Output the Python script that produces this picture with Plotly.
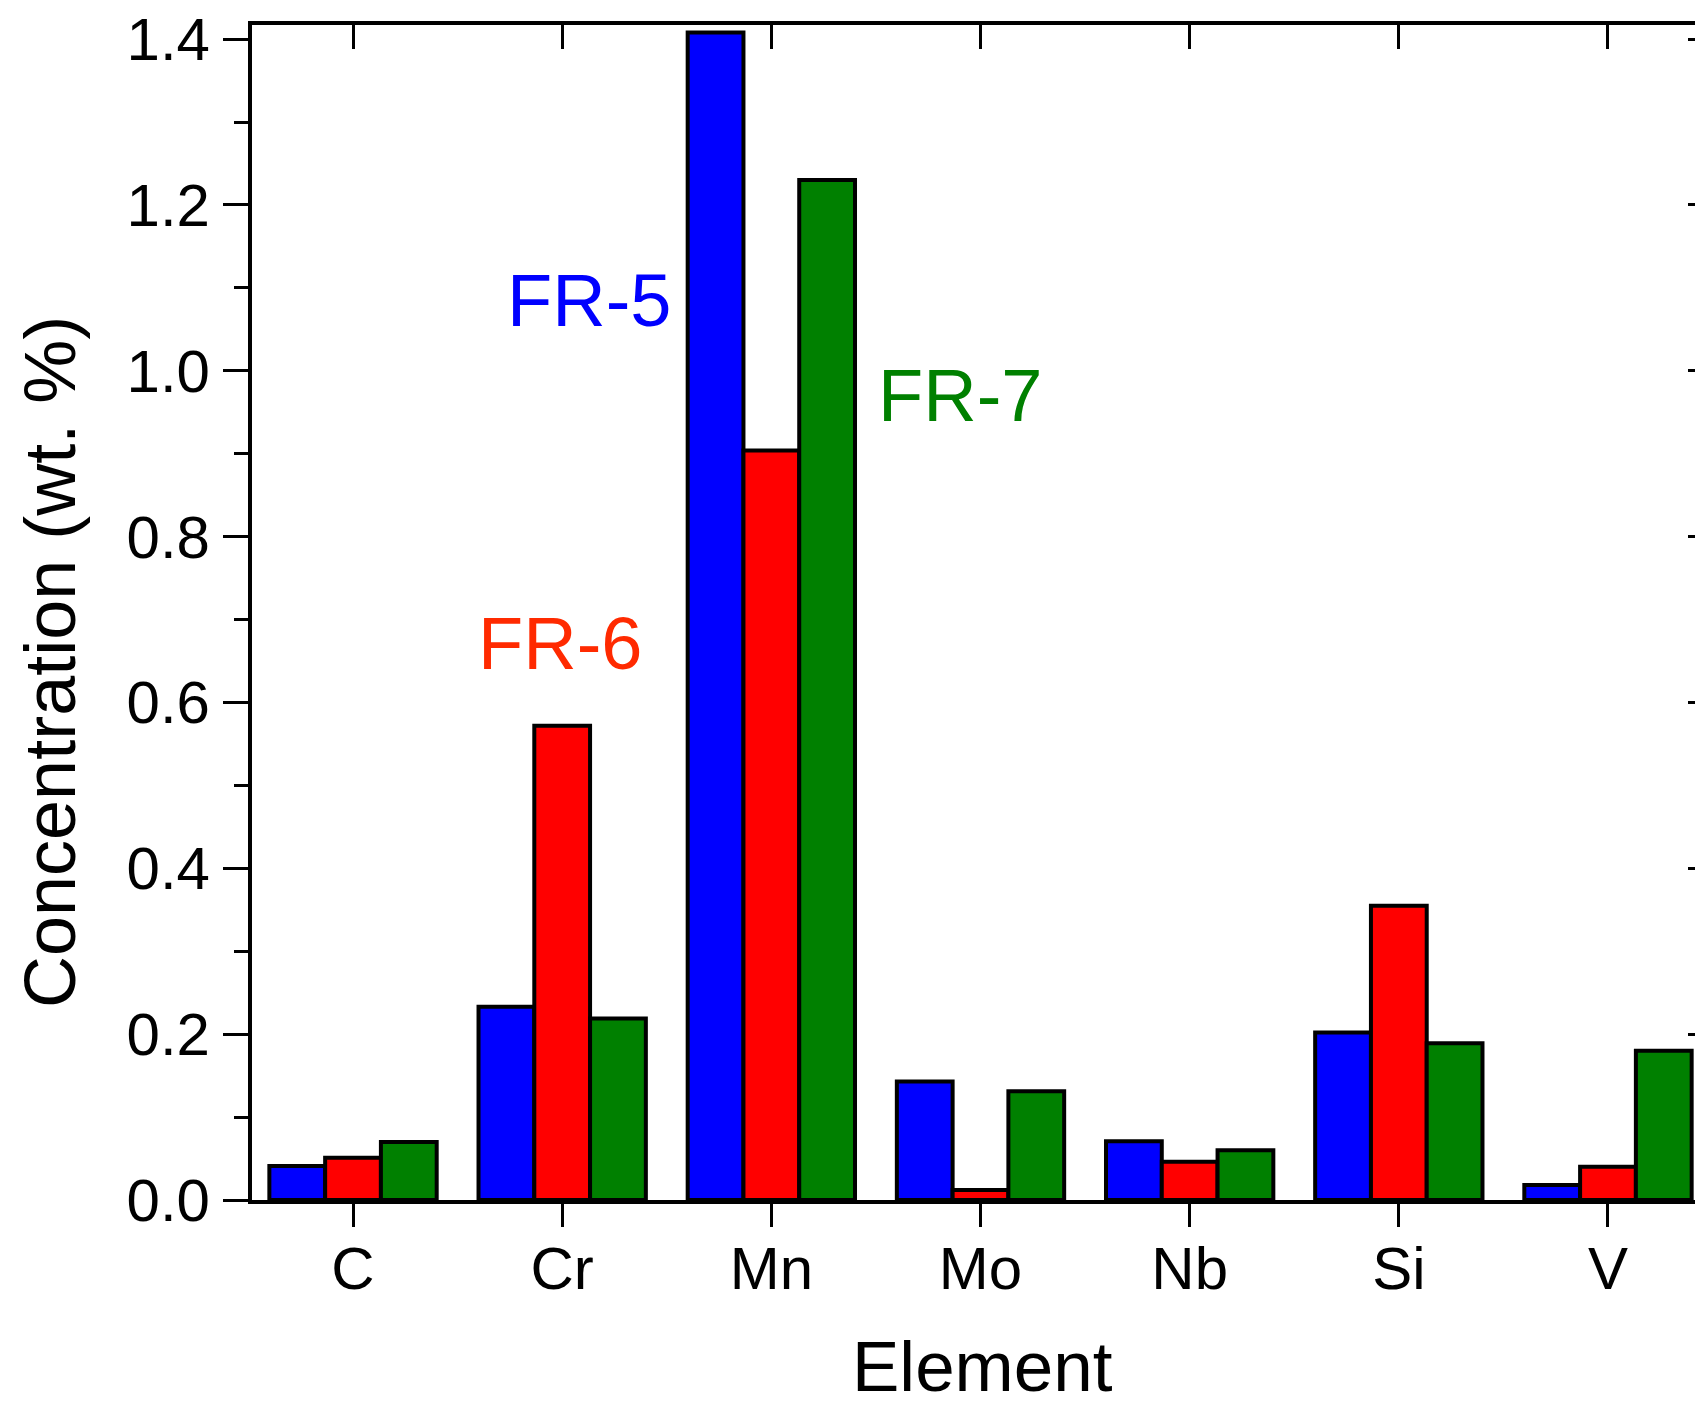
import plotly.graph_objects as go

elements = ["C", "Cr", "Mn", "Mo", "Nb", "Si", "V"]
fr5 = [0.041, 0.233, 1.408, 0.143, 0.071, 0.202, 0.018]
fr6 = [0.051, 0.572, 0.904, 0.012, 0.046, 0.355, 0.040]
fr7 = [0.070, 0.219, 1.230, 0.131, 0.060, 0.189, 0.180]
series_names = ["FR-5", "FR-6", "FR-7"]
series_colors = ["#0000ff", "#ff0000", "#008000"]
label_colors = ["#0000ff", "#ff2a00", "#008000"]

W, H = 1695, 1409
ML, MR, MT, MB = 252, 0, 25, 209
PW, PH = W - ML - MR, H - MT - MB
FONT = "Arial, Liberation Sans, sans-serif"

def px2paper_x(px):
    return (px - ML) / PW

def px2paper_y(py):
    return (H - MB - py) / PH

xr = [-0.483, 6.416]
yr = [0, 1.417]

fig = go.Figure()
for name, vals, col in zip(series_names, [fr5, fr6, fr7], series_colors):
    fig.add_trace(go.Bar(x=elements, y=vals, name=name, marker=dict(color=col, line=dict(color="black", width=4))))

# invisible trace on helper axes
fig.add_trace(go.Scatter(x=[0], y=[0], xaxis="x2", yaxis="y2", mode="markers",
                         marker=dict(opacity=0), showlegend=False, hoverinfo="skip"))

fig.update_layout(
    width=W, height=H,
    margin=dict(l=ML, r=MR, t=MT, b=MB, pad=0),
    paper_bgcolor="white", plot_bgcolor="white",
    barmode="group", bargap=0.2, bargroupgap=0,
    showlegend=False,
    font=dict(family=FONT, color="black"),
    xaxis=dict(type="category", range=xr, showgrid=False, zeroline=False,
               showline=True, linecolor="black", linewidth=4, mirror=True,
               ticks="outside", ticklen=23, tickwidth=3, tickcolor="black",
               tickfont=dict(size=60, family=FONT), ticklabelstandoff=-10),
    yaxis=dict(range=yr, showgrid=False, zeroline=False,
               showline=True, linecolor="black", linewidth=4, mirror=False,
               ticks="outside", ticklen=25, tickwidth=3, tickcolor="black",
               dtick=0.2, tick0=0, tickformat=".1f",
               tickfont=dict(size=60, family=FONT), ticklabelstandoff=1,
               minor=dict(ticks="outside", ticklen=14, tickwidth=3, tickcolor="black", dtick=0.1, tick0=0)),
    xaxis2=dict(overlaying="x", side="top", anchor="y", range=xr, type="linear",
                tickvals=list(range(len(elements))), showticklabels=False,
                ticks="inside", ticklen=24, tickwidth=3, tickcolor="black",
                showgrid=False, zeroline=False, showline=False),
    yaxis2=dict(overlaying="y", side="right", anchor="x", range=yr,
                dtick=0.2, tick0=0, showticklabels=False,
                ticks="inside", ticklen=7, tickwidth=3, tickcolor="black",
                showgrid=False, zeroline=False, showline=False),
)

annos = [
    dict(text="FR-5", x=px2paper_x(589), y=px2paper_y(300), color=label_colors[0]),
    dict(text="FR-6", x=px2paper_x(560), y=px2paper_y(644), color=label_colors[1]),
    dict(text="FR-7", x=px2paper_x(960), y=px2paper_y(395), color=label_colors[2]),
]
for a in annos:
    fig.add_annotation(text=a["text"], x=a["x"], y=a["y"], xref="paper", yref="paper",
                       xanchor="center", yanchor="middle", showarrow=False,
                       font=dict(size=74, color=a["color"], family=FONT))

fig.add_annotation(text="Element", x=px2paper_x(982), y=px2paper_y(1366), xref="paper", yref="paper",
                   xanchor="center", yanchor="middle", showarrow=False,
                   font=dict(size=71, color="black", family=FONT))
fig.add_annotation(text="Concentration (wt. %)", x=px2paper_x(50), y=px2paper_y(662), xref="paper", yref="paper",
                   xanchor="center", yanchor="middle", showarrow=False, textangle=-90,
                   font=dict(size=72, color="black", family=FONT))

fig.write_html("out.html")
